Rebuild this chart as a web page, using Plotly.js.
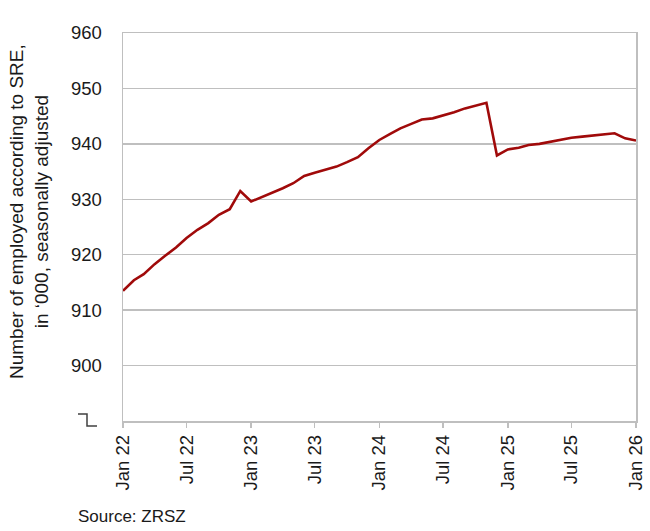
<!DOCTYPE html>
<html>
<head>
<meta charset="utf-8">
<script src="https://cdn.plot.ly/plotly-3.0.1.min.js"></script>
<style>
  html, body { margin: 0; padding: 0; background: #fff; }
  #chart { width: 650px; height: 531px; }
</style>
</head>
<body>
<div id="chart"></div>
<script>
// monthly, Jan 2022 .. Jan 2026
const START_YEAR = 2022;
const N_MONTHS = 49;

// employed (SRE), '000, seasonally adjusted
const employed = [
  913.5, 915.4, 916.5, 918.3, 919.8, 921.3, 923.0, 924.5, 925.7, 927.2, 928.2, 931.5,
  929.6, 930.4, 931.2, 932.0, 932.9, 934.2, 934.8, 935.4, 935.9, 936.7, 937.6, 939.2,
  940.7, 941.8, 942.8, 943.6, 944.4, 944.6, 945.1, 945.7, 946.4, 946.9, 947.4, 937.9,
  939.0, 939.3, 939.8, 940.0, 940.4, 940.8, 941.1, 941.3, 941.5, 941.7, 941.9, 941.0,
  940.6,
];

const yTicks = [900, 910, 920, 930, 940, 950, 960];

const months = [];
for (let i = 0; i < N_MONTHS; i++) {
  const y = START_YEAR + Math.floor(i / 12);
  const m = (i % 12) + 1;
  months.push(`${y}-${String(m).padStart(2, "0")}-01`);
}

const INK = "#1a1a1a";
const GRID = "#bfbfbf";
const LINE = "#a00a0a";
const FONT = '"Liberation Sans", Arial, sans-serif';

const traces = [{
  x: months, y: employed,
  mode: "lines",
  line: { color: LINE, width: 2.6 },
  hoverinfo: "skip",
}];

// pixel -> paper helpers for the decorations (plot area 123..636 x 33..421)
const L = 123, R = 14, T = 33, B = 110, W = 650, H = 531;
const px = (x) => (x - L) / (W - L - R);
const py = (y) => (H - B - y) / (H - T - B);

const layout = {
  width: W, height: H,
  paper_bgcolor: "#fff", plot_bgcolor: "#fff",
  font: { family: FONT, color: INK, size: 18 },
  margin: { l: L, r: R, t: T, b: B },
  showlegend: false,
  xaxis: {
    type: "date",
    range: [months[0], months[N_MONTHS - 1]],
    tick0: months[0], dtick: "M6", tickformat: "%b %y",
    tickangle: -90,
    ticks: "outside", ticklen: 5, tickwidth: 1.5, tickcolor: GRID,
    showline: true, linecolor: GRID, linewidth: 1.5, mirror: true,
    showgrid: false, zeroline: false,
    tickfont: { size: 18.5, color: INK },
  },
  yaxis: {
    range: [890, 960],
    tickvals: yTicks,
    ticks: "", ticklabelstandoff: 16,
    showline: true, linecolor: GRID, linewidth: 1.5, mirror: true,
    showgrid: true, gridcolor: GRID, gridwidth: 1.5, zeroline: false,
    tickfont: { size: 18.5, color: INK },
  },
  annotations: [
    {
      xref: "paper", yref: "paper", x: px(29), y: py(212),
      xanchor: "center", yanchor: "middle", textangle: -90,
      text: "Number of employed according to SRE,<br>in \u2018000, seasonally adjusted",
      showarrow: false, font: { size: 19, color: INK },
    },
    {
      xref: "paper", yref: "paper", x: px(76), y: py(516),
      xanchor: "left", yanchor: "middle",
      text: "Source: ZRSZ", showarrow: false,
      font: { size: 17, color: INK },
    },
  ],
  shapes: [{
    // axis break mark
    type: "path", xref: "paper", yref: "paper",
    path: `M ${px(78)} ${py(414)} L ${px(87)} ${py(414)} L ${px(87)} ${py(426)} L ${px(97)} ${py(426)}`,
    line: { color: "#404040", width: 1.5 },
  }],
};

Plotly.newPlot("chart", traces, layout, { displayModeBar: false, staticPlot: true });
</script>
</body>
</html>
